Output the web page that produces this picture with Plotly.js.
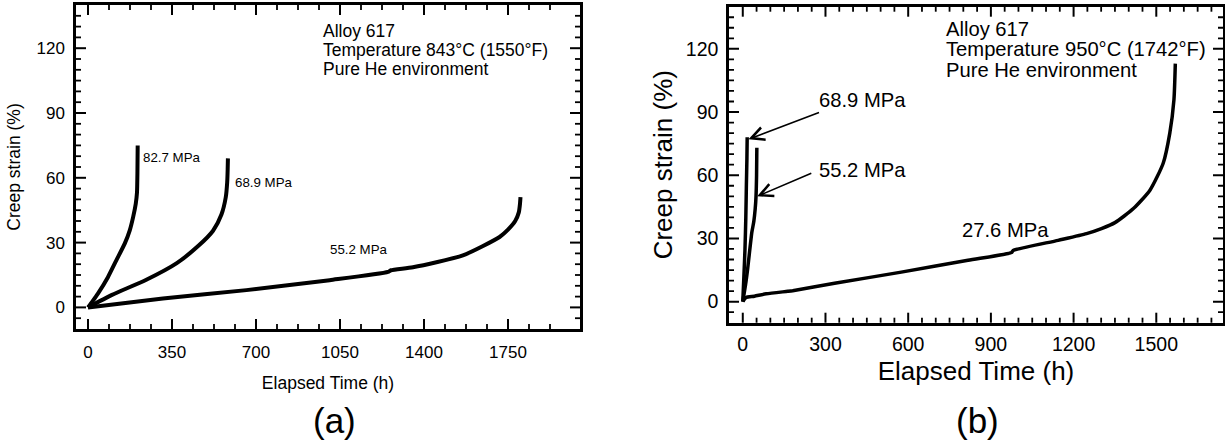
<!DOCTYPE html>
<html>
<head>
<meta charset="utf-8">
<script src="https://cdn.plot.ly/plotly-3.0.1.min.js"></script>
<style>
html,body{margin:0;padding:0;background:#fff;}
#chart{width:1225px;height:442px;}
</style>
</head>
<body>
<div id="chart"></div>
<script>
// ---------- Panel (a): 843°C ----------
const timeA_827 = [0, 20, 42, 83, 118, 153, 174, 188, 199, 204, 206, 207];
const strainA_827 = [0, 3, 6.5, 14, 21.8, 29.5, 35.7, 41.8, 48, 53, 63, 75];

const timeA_689 = [0, 100, 243, 370, 460, 521, 556, 574, 580, 582, 583];
const strainA_689 = [0, 5.8, 12.8, 20.5, 28.5, 35.5, 43, 51, 58, 64, 69];

const timeA_552 = [0, 312, 660, 1007, 1250, 1262, 1354, 1562, 1715, 1750, 1780, 1795, 1800, 1802];
const strainA_552 = [0, 4.15, 8, 12.6, 16.4, 17.2, 18.6, 24.1, 32.6, 36, 40, 44, 48, 51];

// ---------- Panel (b): 950°C ----------
const timeB_689 = [0, 4, 8, 11, 13, 15, 16];
const strainB_689 = [0, 12, 25, 40, 55, 68, 78];

const timeB_552 = [0, 10, 18, 33, 40, 45, 48, 50, 51];
const strainB_552 = [0, 8, 16, 33, 38, 44, 50, 60, 73];

const timeB_276 = [0, 12, 42, 85, 163, 181, 333, 575, 817, 975, 980, 1144, 1247, 1301, 1350, 1417, 1477, 1525, 1549, 1564, 1569];
const strainB_276 = [0, 2, 2.6, 3.7, 4.9, 5.2, 8.7, 14, 19.6, 23.3, 24.2, 29.1, 32.3, 34.7, 37.5, 44.2, 52.9, 65.7, 80, 95.8, 113];

// tick labels
const xTicksA = [0, 350, 700, 1050, 1400, 1750];
const xTicksB = [0, 300, 600, 900, 1200, 1500];
const yTicks = [0, 30, 60, 90, 120];

const FONT = 'Liberation Sans, Arial, Helvetica, sans-serif';

function lineTrace(x, y, xa, ya, w) {
  return {x: x, y: y, xaxis: xa, yaxis: ya, type: 'scatter', mode: 'lines',
          line: {color: 'black', width: w, shape: 'spline', smoothing: 0.6},
          hoverinfo: 'skip', showlegend: false};
}

const traces = [
  lineTrace(timeA_827, strainA_827, 'x', 'y', 4),
  lineTrace(timeA_689, strainA_689, 'x', 'y', 4),
  lineTrace(timeA_552, strainA_552, 'x', 'y', 4),
  lineTrace(timeB_689, strainB_689, 'x2', 'y2', 3.5),
  lineTrace(timeB_552, strainB_552, 'x2', 'y2', 3.5),
  lineTrace(timeB_276, strainB_276, 'x2', 'y2', 3.5)
];

function axis(opts) {
  return Object.assign({
    showline: true, linecolor: 'black', linewidth: 2.5, mirror: true,
    ticks: '', showgrid: false, zeroline: false,
    tickfont: {family: FONT, size: 17, color: 'black'}
  }, opts);
}

const domXA = [76/1225, 580/1225], domYA = [(442-329)/442, (442-5)/442];
const domXB = [729/1225, 1223/1225], domYB = [(442-322.7)/442, (442-6.7)/442];

const layout = {
  width: 1225, height: 442,
  margin: {l: 0, r: 0, t: 0, b: 0},
  showlegend: false,
  xaxis: axis({
    domain: domXA, anchor: 'y', range: [-50, 2050],
    tickvals: xTicksA, ticklabelstandoff: 6,
    title: {text: 'Elapsed Time (h)', font: {family: FONT, size: 17.5, color: 'black'}, standoff: 16}
  }),
  yaxis: axis({
    domain: domYA, anchor: 'x', range: [-10, 140],
    tickvals: yTicks, ticklabelstandoff: 5,
    title: {text: 'Creep strain (%)', font: {family: FONT, size: 17.5, color: 'black'}, standoff: 12}
  }),
  xaxis2: axis({
    domain: domXB, anchor: 'y2', range: [-50, 1742],
    tickvals: xTicksB, ticklabelstandoff: 2,
    tickfont: {family: FONT, size: 19.5, color: 'black'},
    title: {text: 'Elapsed Time (h)', font: {family: FONT, size: 26, color: 'black'}, standoff: 8}
  }),
  yaxis2: axis({
    domain: domYB, anchor: 'x2', range: [-10, 140],
    tickvals: yTicks, ticklabelstandoff: 4,
    tickfont: {family: FONT, size: 19.5, color: 'black'},
    title: {text: 'Creep strain (%)', font: {family: FONT, size: 26, color: 'black'}, standoff: 6}
  }),
  annotations: [],
  shapes: []
};

// ---- inward tick marks on all four sides, placed through the axes' own scales ----
const S = layout.shapes;
function xTick(xa, ya, v, len, w) {
  // bottom and top edges
  S.push({type: 'line', xref: xa, yref: ya + ' domain', x0: v, x1: v,
          ysizemode: 'pixel', yanchor: 0, y0: 0, y1: len, line: {color: 'black', width: w}});
  S.push({type: 'line', xref: xa, yref: ya + ' domain', x0: v, x1: v,
          ysizemode: 'pixel', yanchor: 1, y0: 0, y1: -len, line: {color: 'black', width: w}});
}
function yTick(xa, ya, v, len, w) {
  // left and right edges
  S.push({type: 'line', xref: xa + ' domain', yref: ya, y0: v, y1: v,
          xsizemode: 'pixel', xanchor: 0, x0: 0, x1: len, line: {color: 'black', width: w}});
  S.push({type: 'line', xref: xa + ' domain', yref: ya, y0: v, y1: v,
          xsizemode: 'pixel', xanchor: 1, x0: 0, x1: -len, line: {color: 'black', width: w}});
}
function addTicks(xa, ya, majorVals, minorStep, lo, hi, isX) {
  majorVals.forEach(v => isX ? xTick(xa, ya, v, 10, 2) : yTick(xa, ya, v, 10, 2));
  for (let k = Math.ceil(lo / minorStep); k * minorStep <= hi; k++) {
    const v = k * minorStep;
    if (majorVals.some(m => Math.abs(m - v) < 1e-6)) continue;
    isX ? xTick(xa, ya, v, 5, 1.8) : yTick(xa, ya, v, 5, 1.8);
  }
}
addTicks('x', 'y', xTicksA, 87.5, 0, 2000, true);
addTicks('x', 'y', yTicks, 5, -5, 135, false);
addTicks('x2', 'y2', xTicksB, 50, 0, 1700, true);
addTicks('x2', 'y2', yTicks, 5, -5, 135, false);

function txt(text, x, y, xref, yref, size, xanchor) {
  return {text: text, x: x, y: y, xref: xref, yref: yref, showarrow: false,
          xanchor: xanchor || 'left', yanchor: 'middle',
          font: {family: FONT, size: size, color: 'black'}};
}
const A = layout.annotations;
// panel (a) info text
A.push(txt('Alloy 617', 972, 128, 'x', 'y', 17.5));
A.push(txt('Temperature 843°C (1550°F)', 972, 119.2, 'x', 'y', 17.5));
A.push(txt('Pure He environment', 972, 110.4, 'x', 'y', 17.5));
// panel (a) curve labels
A.push(txt('82.7 MPa', 222, 69.5, 'x', 'y', 13.3));
A.push(txt('68.9 MPa', 603, 58, 'x', 'y', 13.3));
A.push(txt('55.2 MPa', 998, 26.9, 'x', 'y', 13.3));
// panel (b) info text
A.push(txt('Alloy 617', 730, 129.6, 'x2', 'y2', 20.2));
A.push(txt('Temperature 950°C (1742°F)', 730, 119.7, 'x2', 'y2', 20.2));
A.push(txt('Pure He environment', 730, 109.8, 'x2', 'y2', 20.2));
// panel (b) curve labels
A.push(txt('68.9 MPa', 271, 95.9, 'x2', 'y2', 20.2));
A.push(txt('55.2 MPa', 271, 62.5, 'x2', 'y2', 20.2));
A.push(txt('27.6 MPa', 787, 33.9, 'x2', 'y2', 20.2));
// arrows in panel (b)
A.push({text: '', x: 20.7, y: 77.1, ax: 282, ay: 90, xref: 'x2', yref: 'y2', axref: 'x2', ayref: 'y2',
        showarrow: true, arrowhead: 5, arrowsize: 1.6, arrowwidth: 1.6, arrowcolor: 'black'});
A.push({text: '', x: 52.3, y: 50, ax: 254, ay: 61.2, xref: 'x2', yref: 'y2', axref: 'x2', ayref: 'y2',
        showarrow: true, arrowhead: 5, arrowsize: 1.6, arrowwidth: 1.6, arrowcolor: 'black'});
// panel letters
A.push(txt('(a)', 334/1225, (442-420)/442, 'paper', 'paper', 35, 'center'));
A.push(txt('(b)', 977/1225, (442-420)/442, 'paper', 'paper', 35, 'center'));

Plotly.newPlot('chart', traces, layout, {displayModeBar: false});
</script>
</body>
</html>
